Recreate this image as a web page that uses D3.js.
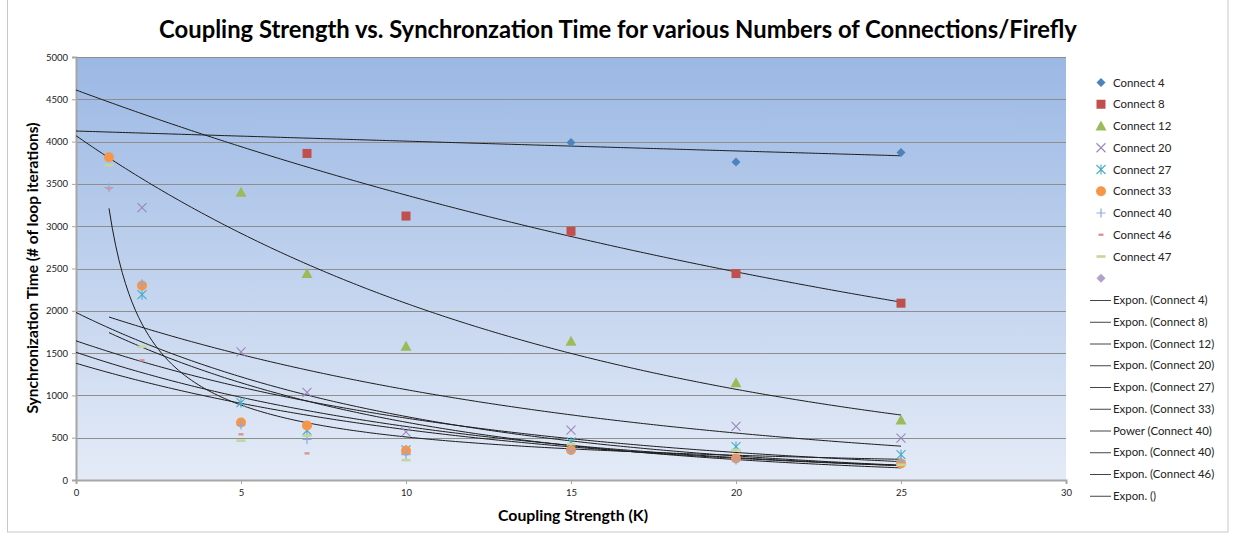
<!DOCTYPE html>
<html><head><meta charset="utf-8">
<script src="https://cdn.jsdelivr.net/npm/d3@7/dist/d3.min.js"></script>
<style>body{margin:0;background:#fff;} svg{display:block;font-family:Lato,"Open Sans",sans-serif;}</style>
</head><body><svg id="c" width="1233" height="533"></svg>
<script>
// ---------- data ----------
const titleText = "Coupling Strength vs. Synchronzation Time for various Numbers of Connections/Firefly";
const xTitle = "Coupling Strength (K)";
const yTitle = "Synchronization Time (# of loop iterations)";
const xTicks = [0, 5, 10, 15, 20, 25, 30];
const yTicks = [0, 500, 1000, 1500, 2000, 2500, 3000, 3500, 4000, 4500, 5000];
const kValues = [1, 2, 5, 7, 10, 15, 20, 25];
const seriesNames = ["Connect 4", "Connect 8", "Connect 12", "Connect 20", "Connect 27", "Connect 33", "Connect 40", "Connect 46", "Connect 47", ""];
const connect4  = [null, null, null, null, null, 3990, 3760, 3870];
const connect8  = [null, null, null, 3860, 3120, 2940, 2440, 2090];
const connect12 = [null, null, 3400, 2440, 1580, 1640, 1150, 710];
const connect20 = [null, 3220, 1515, 1035, 570, 590, 635, 495];
const connect27 = [null, 2190, 915, 585, 355, 450, 395, 300];
const connect33 = [3815, 2300, 680, 645, 345, 355, 255, 195];
const connect40 = [3455, 2320, 650, 480, 300, 350, 235, 225];
const connect46 = [3445, 1415, 540, 315, 350, 370, 260, 190];
const connect47 = [3720, 1575, 465, 525, 235, 425, 355, 180];
const emptySeries = [null, null, null, null, null, null, null, null];
const seriesValues = [connect4, connect8, connect12, connect20, connect27, connect33, connect40, connect46, connect47, emptySeries];
const seriesMarkers = ["diamond", "square", "triangle", "x", "asterisk", "circle", "plus", "shortdash", "longdash", "diamond"];
const seriesColors = ["#4f81bd", "#c0504d", "#9bbb59", "#9a86bc", "#4bacc6", "#f79646", "#8eaadb", "#d99694", "#c3d69b", "#b3a2c7"];

// trendlines (coefficients)
const trendNames = ["Expon. (Connect 4)", "Expon. (Connect 8)", "Expon. (Connect 12)", "Expon. (Connect 20)", "Expon. (Connect 27)", "Expon. (Connect 33)", "Power (Connect 40)", "Expon. (Connect 40)", "Expon. (Connect 46)", "Expon. ()"];
const trendType = ["exp", "exp", "exp", "exp", "exp", "exp", "pow", "exp", "exp", "exp"];
const trendCoefA = [4125, 4610, 4070, 2057, 1980, 1645, 3211, 1510, 1380, 1933];
const trendCoefB = [-0.00294, -0.0314, -0.0667, -0.0655, -0.097, -0.081, -0.80, -0.087, -0.084, -0.104];
const trendStart = [0, 0, 0, 1, 0, 0, 1, 0, 0, 1];
const trendEnd = [25, 25, 25, 25, 25, 25, 25, 25, 25, 25];

// ---------- layout ----------
const svg = d3.select("#c");
const L = 76, R = 1066, T = 57, B = 480;
const x = d3.scaleLinear().domain([0, 30]).range([L, R]);
const y = d3.scaleLinear().domain([0, 5000]).range([B, T]);

// chart area border
svg.append("rect").attr("x", 7.5).attr("y", -1).attr("width", 1220.5).attr("height", 533)
  .attr("fill", "#fff").attr("stroke", "#c8c8c8").attr("stroke-width", 1);

const defs = svg.append("defs");
const grad = defs.append("linearGradient").attr("id", "bg").attr("x1", 0).attr("y1", 0).attr("x2", 0).attr("y2", 1);
grad.append("stop").attr("offset", "0%").attr("stop-color", "#9bb8e4");
grad.append("stop").attr("offset", "100%").attr("stop-color", "#e4ebf7");
svg.append("rect").attr("x", L).attr("y", T).attr("width", R - L).attr("height", B - T).attr("fill", "url(#bg)");

// gridlines
svg.append("g").selectAll("line").data(yTicks.filter(d => d > 0)).join("line")
  .attr("x1", L).attr("x2", R).attr("y1", d => Math.round(y(d)) + 0.5).attr("y2", d => Math.round(y(d)) + 0.5)
  .attr("stroke", "#8e8e8e").attr("stroke-width", 1);

// axes
const xAxis = d3.axisBottom(x).tickValues(xTicks).tickSize(4).tickPadding(5).tickFormat(d3.format("d"));
const yAxis = d3.axisLeft(y).tickValues(yTicks).tickSize(4).tickPadding(4).tickFormat(d3.format("d"));
const gx = svg.append("g").attr("transform", `translate(0,${B})`).call(xAxis);
const gy = svg.append("g").attr("transform", `translate(${L},0)`).call(yAxis);
[gx, gy].forEach(g => {
  g.select(".domain").attr("stroke", "#a6a6a6").attr("stroke-width", 2);
  g.selectAll(".tick line").attr("stroke", "#a6a6a6");
  g.selectAll("text").attr("fill", "#222").attr("font-size", 9.5).attr("font-family", "Lato, sans-serif");
});

// trendlines
const line = d3.line().x(d => x(d[0])).y(d => y(d[1]));
const trendG = svg.append("g");
trendNames.forEach((n, i) => {
  const pts = [];
  for (let k = trendStart[i]; k <= trendEnd[i] + 1e-9; k += 0.1) {
    const v = trendType[i] === "exp" ? trendCoefA[i] * Math.exp(trendCoefB[i] * k) : trendCoefA[i] * Math.pow(k, trendCoefB[i]);
    pts.push([k, v]);
  }
  trendG.append("path").attr("d", line(pts)).attr("fill", "none").attr("stroke", "#1c1c1c").attr("stroke-width", 1);
});

// marker drawing
function marker(g, type, color, cx, cy) {
  const s = 4.5;
  if (type === "diamond") {
    g.append("path").attr("d", `M${cx},${cy - 4.5}L${cx + 4.5},${cy}L${cx},${cy + 4.5}L${cx - 4.5},${cy}Z`).attr("fill", color);
  } else if (type === "square") {
    g.append("rect").attr("x", cx - 4.5).attr("y", cy - 4.5).attr("width", 9).attr("height", 9).attr("fill", color);
  } else if (type === "triangle") {
    g.append("path").attr("d", `M${cx},${cy - 5.5}L${cx + 5.5},${cy + 4.5}L${cx - 5.5},${cy + 4.5}Z`).attr("fill", color);
  } else if (type === "circle") {
    g.append("circle").attr("cx", cx).attr("cy", cy).attr("r", 5).attr("fill", color);
  } else if (type === "x") {
    g.append("path").attr("d", `M${cx - s},${cy - s}L${cx + s},${cy + s}M${cx - s},${cy + s}L${cx + s},${cy - s}`).attr("stroke", color).attr("stroke-width", 1.1);
  } else if (type === "asterisk") {
    g.append("path").attr("d", `M${cx - s},${cy - s}L${cx + s},${cy + s}M${cx - s},${cy + s}L${cx + s},${cy - s}M${cx},${cy - s - 0.5}L${cx},${cy + s + 0.5}`).attr("stroke", color).attr("stroke-width", 1.1);
  } else if (type === "plus") {
    g.append("path").attr("d", `M${cx - s},${cy}L${cx + s},${cy}M${cx},${cy - s}L${cx},${cy + s}`).attr("stroke", color).attr("stroke-width", 1.2);
  } else if (type === "shortdash") {
    g.append("rect").attr("x", cx - 2.5).attr("y", cy - 1.2).attr("width", 5).attr("height", 2.4).attr("fill", color);
  } else if (type === "longdash") {
    g.append("rect").attr("x", cx - 4.5).attr("y", cy - 1.3).attr("width", 9).attr("height", 2.6).attr("fill", color);
  }
}

// points
const ptsG = svg.append("g");
seriesValues.forEach((vals, si) => {
  vals.forEach((v, j) => {
    if (v == null) return;
    marker(ptsG, seriesMarkers[si], seriesColors[si], x(kValues[j]), y(v));
  });
});

// titles
svg.append("text").attr("x", 618).attr("y", 38).attr("text-anchor", "middle")
  .attr("font-size", 23.8).attr("font-weight", "bold").attr("fill", "#000").text(titleText);
svg.append("text").attr("x", 573).attr("y", 521).attr("text-anchor", "middle")
  .attr("font-size", 15.8).attr("font-weight", "bold").attr("fill", "#000").text(xTitle);
svg.append("text").attr("transform", `translate(38,268) rotate(-90)`).attr("text-anchor", "middle")
  .attr("font-size", 15.5).attr("font-weight", "bold").attr("fill", "#000").text(yTitle);

// legend
const lg = svg.append("g");
const rowH = 21.75, y0 = 82.5;
seriesNames.forEach((n, i) => {
  const cy = y0 + i * rowH;
  marker(lg, seriesMarkers[i], seriesColors[i], 1101, cy);
  if (n) lg.append("text").attr("x", 1113).attr("y", cy + 4).attr("font-size", 11.4).attr("fill", "#222").text(n);
});
trendNames.forEach((n, i) => {
  const cy = y0 + (i + 10) * rowH;
  lg.append("line").attr("x1", 1090).attr("x2", 1111).attr("y1", cy + 0.5).attr("y2", cy + 0.5).attr("stroke", "#444").attr("stroke-width", 1);
  lg.append("text").attr("x", 1113).attr("y", cy + 4).attr("font-size", 11.4).attr("fill", "#222").text(n);
});
</script>
</body></html>
